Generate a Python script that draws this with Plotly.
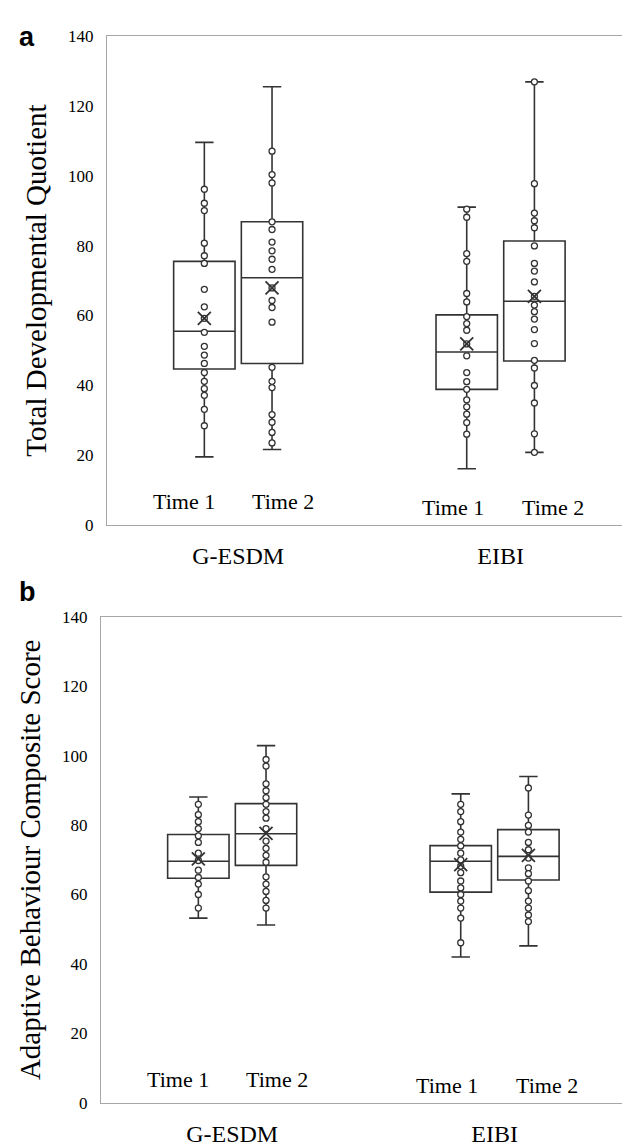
import plotly.graph_objects as go
from plotly.subplots import make_subplots

# ---------------- data ----------------
groups = ["G-ESDM", "EIBI"]
times = ["Time 1", "Time 2"]
y_ticks = [0, 20, 40, 60, 80, 100, 120, 140]

# order of boxes: G-ESDM T1, G-ESDM T2, EIBI T1, EIBI T2
# (a) Total Developmental Quotient
tdq_q1 = [44.7, 46.3, 38.9, 47.0]
tdq_median = [55.5, 70.8, 49.6, 64.1]
tdq_q3 = [75.5, 86.8, 60.2, 81.3]
tdq_low = [19.6, 21.7, 16.2, 20.9]
tdq_high = [109.5, 125.4, 91.0, 126.8]
tdq_mean = [59.2, 67.9, 51.9, 65.5]

tdq_gesdm_t1 = [96.1, 92.1, 90.0, 80.7, 77.1, 74.9, 67.5, 62.5, 59.2, 55.2,
                51.2, 48.7, 46.3, 43.7, 41.2, 39.1, 37.2, 33.2, 28.5]
tdq_gesdm_t2 = [107.0, 100.3, 97.9, 86.8, 84.6, 81.0, 78.5, 76.1, 73.2, 67.9,
                64.3, 62.3, 58.1, 45.2, 41.2, 39.4, 31.7, 29.5, 26.6, 23.6]
tdq_eibi_t1 = [90.4, 88.1, 77.7, 75.5, 66.3, 63.9, 59.7, 57.7, 55.8, 51.9,
               48.5, 43.7, 41.1, 38.9, 35.9, 33.9, 31.8, 29.4, 26.1]
tdq_eibi_t2 = [126.8, 97.7, 89.3, 87.1, 85.1, 79.9, 74.9, 72.7, 69.6, 65.5,
               63.0, 61.1, 59.0, 56.0, 52.0, 47.2, 45.0, 40.0, 35.0, 26.2, 20.9]

# (b) Adaptive Behaviour Composite Score
abc_q1 = [64.7, 68.4, 60.7, 64.2]
abc_median = [69.6, 77.5, 69.6, 71.0]
abc_q3 = [77.3, 86.2, 74.1, 78.7]
abc_low = [53.2, 51.2, 42.0, 45.2]
abc_high = [88.1, 102.9, 89.0, 94.0]
abc_mean = [70.3, 77.6, 68.6, 71.3]

abc_gesdm_t1 = [86.0, 83.0, 81.0, 79.0, 76.9, 75.0, 71.9, 69.8, 67.0, 64.9,
                63.0, 60.0, 56.1]
abc_gesdm_t2 = [98.9, 97.0, 91.9, 89.9, 87.9, 86.0, 83.9, 82.0, 79.0, 75.4,
                73.3, 71.3, 69.3, 65.1, 63.0, 60.9, 58.3, 56.1]
abc_eibi_t1 = [86.0, 83.9, 81.0, 78.0, 75.9, 74.0, 71.9, 70.0, 68.2, 66.3,
               63.9, 61.9, 60.0, 58.1, 56.1, 53.2, 46.1]
abc_eibi_t2 = [90.7, 82.9, 79.9, 78.0, 75.0, 72.9, 70.5, 67.7, 66.0, 63.9,
               61.1, 58.1, 56.1, 54.1, 52.2]

panels = [
    dict(q1=tdq_q1, med=tdq_median, q3=tdq_q3, lo=tdq_low, hi=tdq_high,
         mean=tdq_mean, pts=[tdq_gesdm_t1, tdq_gesdm_t2, tdq_eibi_t1, tdq_eibi_t2],
         title="Total Developmental Quotient"),
    dict(q1=abc_q1, med=abc_median, q3=abc_q3, lo=abc_low, hi=abc_high,
         mean=abc_mean, pts=[abc_gesdm_t1, abc_gesdm_t2, abc_eibi_t1, abc_eibi_t2],
         title="Adaptive Behaviour Composite Score"),
]

# ---------------- layout constants ----------------
W, H = 630, 1147
group_center = [0.5, 1.5]
time_offset = [-0.129, 0.129]
box_width = 0.234
time_label_dx = [[-0.206, 0.171], [-0.181, 0.199]]
time_label_y = [6.8, 5.1]
serif = "Liberation Serif, Times New Roman, serif"
line_col = "#333333"
frame_col = "#a6a6a6"

fig = make_subplots(rows=2, cols=1)

for p_i, p in enumerate(panels):
    row = p_i + 1
    positions = []
    for g_i in range(len(groups)):
        for t_i in range(len(times)):
            positions.append(group_center[g_i] + time_offset[t_i])
    for k, pos in enumerate(positions):
        fig.add_trace(go.Box(
            x=[pos], q1=[p["q1"][k]], median=[p["med"][k]], q3=[p["q3"][k]],
            lowerfence=[p["lo"][k]], upperfence=[p["hi"][k]],
            width=box_width, whiskerwidth=0.3, boxpoints=False,
            line=dict(color=line_col, width=1.6), fillcolor="rgba(255,255,255,0)",
            showlegend=False, hoverinfo="skip"), row=row, col=1)
    for k, pos in enumerate(positions):
        fig.add_trace(go.Scatter(
            x=[pos] * len(p["pts"][k]), y=p["pts"][k], mode="markers",
            marker=dict(symbol="circle", size=6, color="white",
                        line=dict(color=line_col, width=1.3)),
            showlegend=False, hoverinfo="skip"), row=row, col=1)
    fig.add_trace(go.Scatter(
        x=positions, y=p["mean"], mode="markers",
        marker=dict(symbol="x-thin", size=13, color=line_col,
                    line=dict(color=line_col, width=1.8)),
        showlegend=False, hoverinfo="skip"), row=row, col=1)
    xref = "x" if row == 1 else "x2"
    yref = "y" if row == 1 else "y2"
    for g_i in range(len(groups)):
        for t_i, t in enumerate(times):
            fig.add_annotation(x=group_center[g_i] + time_label_dx[g_i][t_i],
                               y=time_label_y[g_i], xref=xref, yref=yref,
                               text=t, showarrow=False,
                               font=dict(family=serif, size=22, color="black"))

axis_common = dict(showline=True, mirror=True, linecolor=frame_col, linewidth=1,
                   showgrid=False, zeroline=False, ticks="")
xfont = dict(family=serif, size=24, color="black")
yfont = dict(family=serif, size=17, color="black")
tfont = dict(family=serif, size=29, color="black")

fig.update_layout(
    width=W, height=H, margin=dict(l=0, r=0, t=0, b=0),
    paper_bgcolor="white", plot_bgcolor="white",
    xaxis=dict(domain=[99 / W, 629 / W], range=[0, 2.02],
               tickvals=group_center, ticktext=groups, ticklabelstandoff=9,
               tickfont=xfont, **axis_common),
    yaxis=dict(domain=[1 - 517 / H, 1 - 19 / H], range=[0, 140], tickvals=y_ticks,
               ticklabelstandoff=9, tickfont=yfont,
               title=dict(text=panels[0]["title"], standoff=12, font=tfont),
               **axis_common),
    xaxis2=dict(domain=[93 / W, 623 / W], range=[0, 2.02],
                tickvals=group_center, ticktext=groups, ticklabelstandoff=9,
                tickfont=xfont, **axis_common),
    yaxis2=dict(domain=[1 - 1104 / H, 1 - 610 / H], range=[0, 140], tickvals=y_ticks,
                ticklabelstandoff=9, tickfont=yfont,
                title=dict(text=panels[1]["title"], standoff=12, font=tfont),
                **axis_common),
)

for letter, ypx in [("a", 20), ("b", 585)]:
    fig.add_annotation(x=19 / W, y=1 - ypx / H, xref="paper", yref="paper",
                       text="<b>%s</b>" % letter, showarrow=False,
                       xanchor="center", yanchor="middle",
                       font=dict(family="Liberation Sans, Arial, sans-serif",
                                 size=27, color="black"))

fig.write_html("out.html")
